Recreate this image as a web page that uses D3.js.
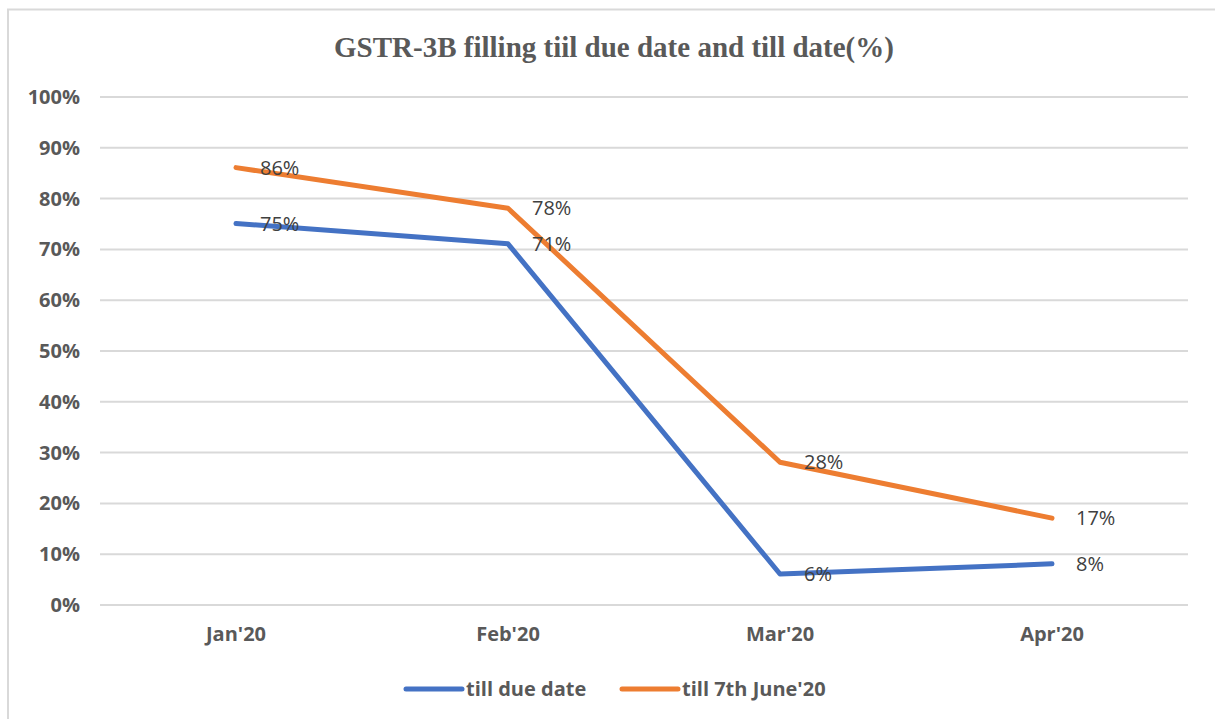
<!DOCTYPE html>
<html><head><meta charset="utf-8">
<script src="https://cdn.jsdelivr.net/npm/d3@7"></script>
<style>body{margin:0;background:#fff}svg{display:block}</style>
</head><body>
<script>
const categories = ["Jan'20", "Feb'20", "Mar'20", "Apr'20"];
const tillDueDate = [75, 71, 6, 8];
const tillJune = [86, 78, 28, 17];
const seriesNames = ["till due date", "till 7th June'20"];
const yTicks = [0,10,20,30,40,50,60,70,80,90,100];
const title = "GSTR-3B filling tiil due date and till date(%)";

const W = 1215, H = 719;
const svg = d3.select("body").append("svg").attr("width", W).attr("height", H);

// chart border
svg.append("rect").attr("x", 8).attr("y", 9.5).attr("width", W).attr("height", H)
  .attr("fill", "none").attr("stroke", "#d9d9d9").attr("stroke-width", 2);

const m = {left: 100, right: 1188, top: 96.5, bottom: 604.5};
const x = d3.scaleBand().domain(categories).range([m.left, m.right]);
const y = d3.scaleLinear().domain([0, 100]).range([m.bottom, m.top]);

svg.append("text").attr("x", 614).attr("y", 57).attr("text-anchor", "middle")
  .attr("font-family", "'Liberation Serif', serif").attr("font-weight", "bold")
  .attr("font-size", 29).attr("fill", "#595959").text(title);

// grid
const yAxis = d3.axisLeft(y).tickValues(yTicks).tickFormat(d => d + "%")
  .tickSize(-(m.right - m.left)).tickPadding(20);
const gy = svg.append("g").attr("transform", `translate(${m.left},0)`).call(yAxis);
gy.select(".domain").remove();
gy.selectAll(".tick line").attr("stroke", "#d9d9d9").attr("stroke-width", 2);
gy.selectAll(".tick text").attr("font-family", "'Open Sans', sans-serif").attr("font-weight", "bold")
  .attr("font-size", 20).attr("fill", "#595959").attr("dy", "0.35em");

const xAxis = d3.axisBottom(x).tickSize(0).tickPadding(22);
const gx = svg.append("g").attr("transform", `translate(0,${m.bottom})`).call(xAxis);
gx.select(".domain").remove();
gx.selectAll(".tick text").attr("font-family", "'Open Sans', sans-serif").attr("font-weight", "bold")
  .attr("font-size", 20).attr("fill", "#595959");

const colors = ["#4472C4", "#ED7D31"];
const series = [tillDueDate, tillJune];
const line = d3.line().x((d, i) => x(categories[i]) + x.bandwidth() / 2).y(d => y(d));

series.forEach((s, k) => {
  svg.append("path").datum(s).attr("d", line).attr("fill", "none")
    .attr("stroke", colors[k]).attr("stroke-width", 5).attr("stroke-linecap", "round")
    .attr("stroke-linejoin", "round");
});
series.forEach((s, k) => {
  svg.append("g").selectAll("text").data(s).join("text")
    .attr("x", (d, i) => x(categories[i]) + x.bandwidth() / 2 + 24)
    .attr("y", d => y(d))
    .attr("dy", "0.35em")
    .attr("font-family", "'Open Sans', sans-serif").attr("font-size", 20)
    .attr("fill", "#404040").text(d => d + "%");
});

// legend
const legendX = [406, 622];
seriesNames.forEach((n, k) => {
  svg.append("line").attr("x1", legendX[k]).attr("x2", legendX[k] + 56)
    .attr("y1", 689).attr("y2", 689).attr("stroke", colors[k]).attr("stroke-width", 5)
    .attr("stroke-linecap", "round");
  svg.append("text").attr("x", legendX[k] + 60).attr("y", 689).attr("dy", "0.35em")
    .attr("font-family", "'Open Sans', sans-serif").attr("font-weight", "bold")
    .attr("font-size", 20).attr("fill", "#595959").text(n);
});
</script>
</body></html>
